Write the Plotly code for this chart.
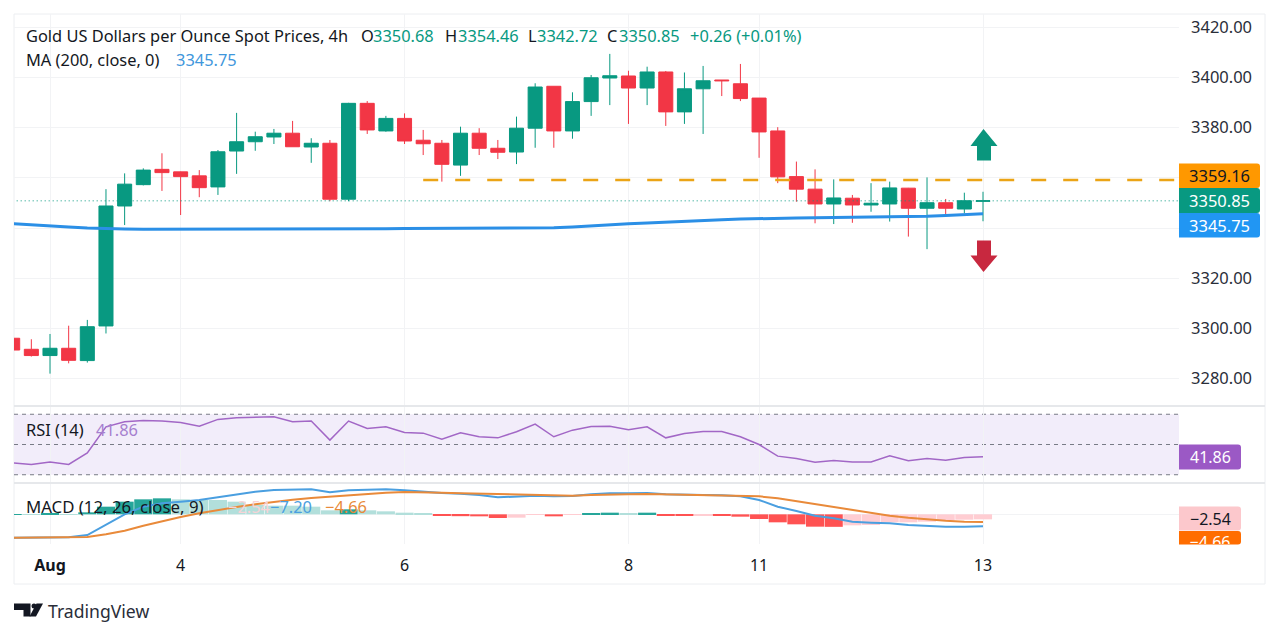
import plotly.graph_objects as go
from plotly.subplots import make_subplots

# 4h bars, index 0 is the first bar of Aug
bar_index = list(range(-2, 51))
opens = [3296.1, 3291.7, 3289.2, 3292.1, 3287.2, 3301.0, 3348.8, 3357.3, 3363.4, 3362.4, 3360.8, 3356.4, 3370.7,
         3374.4, 3376.3, 3377.8, 3372.3, 3373.8, 3351.5, 3389.7, 3378.7, 3383.7, 3375.0, 3373.8, 3365.1, 3377.8,
         3371.8, 3370.3, 3379.8, 3396.5, 3378.7, 3390.4, 3399.8, 3400.6, 3395.8, 3402.2, 3386.3, 3395.5, 3399.0,
         3397.5, 3391.8, 3378.7, 3360.5, 3355.5, 3349.6, 3351.9, 3349.2, 3349.6, 3355.9, 3347.9, 3350.1, 3347.6,
         3350.68]
highs = [3296.5, 3295.7, 3297.8, 3301.1, 3303.4, 3355.5, 3361.8, 3363.8, 3369.8, 3362.5, 3363.1, 3371.1, 3385.9,
         3378.4, 3379.5, 3382.7, 3375.8, 3375.1, 3389.9, 3390.6, 3384.7, 3385.7, 3379.1, 3375.1, 3380.4, 3379.8,
         3375.1, 3384.4, 3397.7, 3396.5, 3394.1, 3401.0, 3409.4, 3402.7, 3404.3, 3402.6, 3402.0, 3404.6, 3399.0,
         3405.4, 3391.8, 3380.2, 3366.5, 3363.4, 3359.4, 3353.2, 3357.9, 3358.5, 3356.0, 3360.2, 3351.6, 3354.1,
         3354.46]
lows = [3291.0, 3288.8, 3282.0, 3286.1, 3286.4, 3298.0, 3341.2, 3357.0, 3354.8, 3345.2, 3352.3, 3353.2, 3361.6,
        3370.8, 3373.5, 3372.4, 3366.0, 3350.7, 3350.7, 3377.5, 3378.4, 3373.5, 3369.1, 3358.5, 3360.8, 3369.1,
        3367.5, 3365.5, 3372.0, 3372.0, 3375.6, 3384.7, 3389.0, 3381.5, 3389.0, 3380.7, 3381.5, 3377.5, 3392.6,
        3390.6, 3368.0, 3357.9, 3350.5, 3341.9, 3341.6, 3342.1, 3346.5, 3342.6, 3336.6, 3331.6, 3345.6, 3345.9,
        3342.72]
closes = [3291.4, 3289.2, 3292.1, 3287.3, 3300.7, 3348.8, 3357.5, 3363.1, 3362.1, 3360.5, 3356.1, 3370.4, 3374.4,
          3376.4, 3377.8, 3372.4, 3373.8, 3351.5, 3389.7, 3379.1, 3383.7, 3374.7, 3373.6, 3365.4, 3377.8, 3371.8,
          3370.2, 3379.8, 3396.2, 3378.7, 3390.4, 3399.9, 3400.7, 3395.8, 3402.2, 3386.3, 3395.5, 3398.7, 3398.7,
          3391.6, 3378.3, 3360.4, 3355.5, 3349.6, 3352.0, 3349.2, 3349.9, 3356.0, 3347.9, 3350.1, 3347.9, 3350.9,
          3350.85]
ma200 = [3341.75, 3341.2, 3340.8, 3340.4, 3340.0, 3339.7, 3339.6, 3339.5, 3339.5, 3339.5, 3339.5, 3339.5, 3339.5,
         3339.5, 3339.5, 3339.5, 3339.5, 3339.5, 3339.6, 3339.7, 3339.7, 3339.8, 3339.8, 3339.8, 3339.9, 3339.9,
         3339.9, 3340.0, 3340.0, 3340.1, 3340.4, 3340.9, 3341.3, 3341.7, 3342.0, 3342.4, 3342.7, 3343.0, 3343.3,
         3343.6, 3343.8, 3344.0, 3344.0, 3344.1, 3344.2, 3344.2, 3344.3, 3344.4, 3344.5, 3344.7, 3345.0, 3345.3,
         3345.75]
rsi = [37.9, 36.8, 38.5, 36.8, 44.5, 61.7, 65, 65.9, 65.5, 64.6, 62.1, 66.6, 67.7, 67.9, 68.3, 65, 65.5, 52.9, 65.5,
       60.6, 61.7, 57.9, 57.5, 53.5, 57.7, 55.1, 54.4, 58.4, 63.5, 55.1, 59.5, 61.9, 62.1, 59.7, 61.7, 54.4, 57.3,
       58.6, 58.6, 55.1, 50, 42.3, 40.7, 38.3, 39.4, 38.5, 38.5, 42.5, 39.2, 40.7, 39.6, 41.4, 41.86]
macd = [-14, -14, -13.8, -13.8, -12.4, -6.4, 0, 4.6, 6.6, 7.6, 8.6, 10.2, 12, 13.6, 14.6, 14.8, 15, 13.2, 14.4, 14.8,
        15, 14.4, 13.4, 12.8, 12.4, 11.6, 10.2, 10.6, 11.2, 10.8, 11, 12, 12.6, 12.6, 12.8, 12, 11.6, 11.6, 11.4,
        10.8, 8.6, 4.6, 2, -0.8, -2.4, -4.4, -5, -5.4, -6.4, -7, -7.4, -7.4, -7.2]
signal = [-14, -14, -14, -14, -13.6, -12, -9.8, -6.8, -4, -1.6, 0.6, 2.6, 4.4, 6, 7.6, 8.8, 9.8, 10.6, 11.6, 12.4,
          13, 13.4, 13.4, 13, 12.6, 12.4, 12, 11.6, 11.4, 11.2, 11.2, 11.6, 12, 12, 12.2, 12, 11.8, 11.6, 11.6, 11.4,
          10.8, 9.6, 7.8, 6, 4.2, 2.4, 0.8, -0.8, -2, -3, -3.8, -4.4, -4.66]
hist = [0.1, 0.1, 0.4, 0.1, 1.2, 4.6, 7.6, 9, 9.6, 9, 8.6, 8.6, 7.6, 5.6, 5.2, 5.2, 4.6, 2.4, 3, 2.4, 1.8, 1, 0.4,
        -1, -1.1, -1.2, -2.2, -2, -0.2, -1.2, -0.4, 0.6, 1, 0.4, 1, -0.6, -0.7, -0.6, -0.7, -1.4, -2.8, -4.8, -6,
        -7.4, -7.5, -6.6, -6.4, -4.8, -4.8, -4.4, -3.4, -3.2, -3]

price_ticks = [3280, 3300, 3320, 3340, 3360, 3380, 3400, 3420]
price_labels = ["3280.00", "3300.00", "3320.00", "", "", "3380.00", "3400.00", "3420.00"]
time_ticks = [0, 7, 19, 31, 38, 50]
time_labels = ["<b>Aug</b>", "4", "6", "8", "11", "13"]
level_bars = [20, 60.5]
level_price = 3359.16
last_bars = [-2, 60.5]
last_price = 3350.85

GREEN = "#089981"
RED = "#f23645"
BLUE = "#2b8fe6"
PURPLE = "#9b59c5"
TEXT = "#131722"
GRID = "#f2f3f5"
FONT = "Noto Sans"
W, H = 1280, 636


def px(x):
    return x / W


def py(y):
    return 1 - y / H


def pane(top, bottom):
    return [py(bottom), py(top)]


def poly(points):
    return "M" + " L".join(f"{px(x):.5f},{py(y):.5f}" for x, y in points) + " Z"


def tag(x0, x1, y0, y1, color, layer="above"):
    # price scale tag with rounded right corners
    r = 3
    return dict(type="path", xref="paper", yref="paper", layer=layer, fillcolor=color, line_width=0,
                path=f"M{px(x0):.5f},{py(y0):.5f} L{px(x1 - r):.5f},{py(y0):.5f} "
                     f"Q{px(x1):.5f},{py(y0):.5f} {px(x1):.5f},{py(y0 + r):.5f} "
                     f"L{px(x1):.5f},{py(y1 - r):.5f} Q{px(x1):.5f},{py(y1):.5f} {px(x1 - r):.5f},{py(y1):.5f} "
                     f"L{px(x0):.5f},{py(y1):.5f} Z")


def label(x, y, text, size=16.4, color=TEXT, anchor="left"):
    # annotations carry about 2px of padding on the left
    x = x - 2 if anchor == "left" else x
    return dict(xref="paper", yref="paper", x=px(x), y=py(y), text=text, showarrow=False, xanchor=anchor,
                yanchor="middle", align="left", font=dict(family=FONT, size=size, color=color))


hist_colors = []
for i, v in enumerate(hist):
    prev = hist[i - 1] if i else 0
    if v >= 0:
        hist_colors.append("#26a69a" if v > prev else "#b2dfdb")
    else:
        hist_colors.append("#ff5252" if v < prev else "#ffcdd2")

fig = make_subplots(rows=3, cols=1, shared_xaxes=True)
fig.add_trace(go.Scatter(x=last_bars, y=[last_price, last_price], mode="lines",
                         line=dict(color=GREEN, width=1, dash="1px,3px")), row=1, col=1)
fig.add_trace(go.Scatter(x=bar_index, y=ma200, mode="lines", line=dict(color=BLUE, width=3)), row=1, col=1)
fig.add_trace(go.Candlestick(x=bar_index, open=opens, high=highs, low=lows, close=closes, whiskerwidth=0,
                             increasing=dict(line=dict(color=GREEN, width=1), fillcolor=GREEN),
                             decreasing=dict(line=dict(color=RED, width=1), fillcolor=RED)), row=1, col=1)
fig.add_trace(go.Scatter(x=level_bars, y=[level_price, level_price], mode="lines",
                         line=dict(color="#eba416", width=2.5, dash="15px,17px")), row=1, col=1)
fig.add_trace(go.Scatter(x=bar_index, y=rsi, mode="lines", line=dict(color="#a267c6", width=1.5)), row=2, col=1)
fig.add_trace(go.Bar(x=bar_index, y=hist, marker=dict(color=hist_colors, line_width=0)), row=3, col=1)
fig.add_trace(go.Scatter(x=bar_index, y=macd, mode="lines", line=dict(color="#4a9fe0", width=2)), row=3, col=1)
fig.add_trace(go.Scatter(x=bar_index, y=signal, mode="lines", line=dict(color="#e98a3a", width=2)), row=3, col=1)

# the signal tag is cut off by the pane edge in the original, so it gets an axis of its own to clip against
fig.add_trace(go.Scatter(x=[0.5], y=[-17.8], mode="text", text=["−4.66"], xaxis="x4", yaxis="y4", cliponaxis=True,
                         textposition="middle center", textfont=dict(family=FONT, size=16, color="white")))

x_range = [-36 / 18.66, 1129 / 18.66]
x_common = dict(range=x_range, domain=[px(14), px(1179)], showgrid=True, gridcolor=GRID, gridwidth=1, zeroline=False,
                tickvals=time_ticks, ticktext=time_labels, rangeslider_visible=False, showline=False, ticks="")
fig.update_layout(
    width=W, height=H, margin=dict(l=0, r=0, t=0, b=0), plot_bgcolor="rgba(0,0,0,0)", paper_bgcolor="white",
    showlegend=False, boxgap=0.2, boxgroupgap=0.06, bargap=0.03, font=dict(family=FONT, color=TEXT),
    xaxis=dict(**x_common, showticklabels=False),
    xaxis2=dict(**x_common, showticklabels=False),
    xaxis3=dict(**x_common, showticklabels=True, ticklabelstandoff=10, tickfont=dict(size=16, color=TEXT)),
    yaxis=dict(domain=pane(14, 405), range=[3269.5, 3425.3], side="right", tickvals=price_ticks, ticktext=price_labels,
               showgrid=True, gridcolor=GRID, zeroline=False, ticks="", ticklabelstandoff=11,
               tickfont=dict(size=16.5, color="#2a2e39")),
    yaxis2=dict(domain=pane(407, 482), range=[25.2, 74.8], showgrid=False, zeroline=False, showticklabels=False),
    yaxis3=dict(domain=pane(484, 544), range=[-17.8, 18.2], showgrid=False, zeroline=True, zerolinecolor=GRID,
                zerolinewidth=1, showticklabels=False),
    xaxis4=dict(domain=[px(1179), px(1241)], range=[0, 1], anchor="y4", visible=False),
    yaxis4=dict(domain=pane(484, 544), range=[-17.8, 18.2], anchor="x4", visible=False),
)

shapes = [
    dict(type="rect", xref="paper", yref="paper", x0=px(14), x1=px(1265), y0=py(584), y1=py(14), layer="below",
         line=dict(color="#eceef1", width=1)),
    dict(type="line", xref="paper", yref="paper", x0=px(14), x1=px(1265), y0=py(406), y1=py(406), layer="below",
         line=dict(color="#e6e8eb", width=2)),
    dict(type="line", xref="paper", yref="paper", x0=px(14), x1=px(1265), y0=py(483), y1=py(483), layer="below",
         line=dict(color="#e6e8eb", width=2)),
    dict(type="rect", xref="x2", yref="y2", x0=x_range[0], x1=x_range[1], y0=30, y1=70, layer="below",
         fillcolor="#f2edfa", line_width=0),
]
for level in [70, 50, 30]:
    shapes.append(dict(type="line", xref="x2", yref="y2", x0=x_range[0], x1=x_range[1], y0=level, y1=level,
                       layer="below", line=dict(color="#787b86", width=1, dash="4px,4px")))

# up / down arrows
shapes.append(dict(type="path", xref="paper", yref="paper", layer="above", fillcolor="#0a967d", line_width=0,
                   path=poly([(983.5, 129), (997.5, 146), (991, 146), (991, 160.5), (977, 160.5), (977, 146),
                              (970.5, 146)])))
shapes.append(dict(type="path", xref="paper", yref="paper", layer="above", fillcolor="#c8283f", line_width=0,
                   path=poly([(977, 240.5), (991, 240.5), (991, 255.5), (997.5, 255.5), (983.5, 272), (970.5, 255.5),
                              (977, 255.5)])))

# price scale tags
shapes += [tag(1179, 1260, 163.5, 188, "#ff9800"), tag(1179, 1260, 188, 213, GREEN), tag(1179, 1260, 213, 237.5, "#2196f3"),
           tag(1179, 1241, 444.5, 469.5, PURPLE), tag(1179, 1241, 506.5, 530.5, "#fcc8cc"),
           tag(1179, 1241, 531, 544.5, "#ff6d00", layer="below")]

# logo
LOGO = "#131722"
shapes.append(dict(type="path", xref="paper", yref="paper", fillcolor=LOGO, line_width=0,
                   path=poly([(14, 603.5), (30.5, 603.5), (30.5, 616.5), (23.5, 616.5), (23.5, 610), (14, 610)])))
shapes.append(dict(type="circle", xref="paper", yref="paper", fillcolor=LOGO, line_width=0,
                   x0=px(31.5), x1=px(36.5), y0=py(608.5), y1=py(603.5)))
shapes.append(dict(type="path", xref="paper", yref="paper", fillcolor=LOGO, line_width=0,
                   path=poly([(36.5, 603.5), (43, 603.5), (36, 616.5), (29.5, 616.5)])))
fig.update_layout(shapes=shapes)

annotations = [
    label(26, 36, "Gold US Dollars per Ounce Spot Prices, 4h"),
    label(361, 36, "O"), label(373, 36, "3350.68", color=GREEN),
    label(445, 36, "H"), label(458, 36, "3354.46", color=GREEN),
    label(528, 36, "L"), label(537, 36, "3342.72", color=GREEN),
    label(607, 36, "C"), label(619, 36, "3350.85", color=GREEN),
    label(690, 36, "+0.26 (+0.01%)", color=GREEN),
    label(26, 60, "MA (200, close, 0)"),
    label(176, 60, "3345.75", color="#3f97dc"),
    label(26, 429, "RSI (14)"),
    label(96, 429, "41.86", color="#a67fcf"),
    label(26, 506, "MACD (12, 26, close, 9)", size=16.8),
    label(228, 506, "−2.54", color="#f8d3d6"),
    label(270, 506, "−7.20", color="#4a9fe0"),
    label(325, 506, "−4.66", color="#e98a3a"),
    label(1219.5, 175.5, "3359.16", size=16.5, anchor="center"),
    label(1219.5, 200.5, "3350.85", size=16.5, color="white", anchor="center"),
    label(1219.5, 225.5, "3345.75", size=16.5, color="white", anchor="center"),
    label(1210, 457, "41.86", size=16, color="white", anchor="center"),
    label(1210, 518.5, "−2.54", size=16, anchor="center"),
    label(48, 611, "TradingView", size=17.6, color="#2a2e39"),
]
fig.update_layout(annotations=annotations)

# page body has a default margin that would push the chart out of the window
fig.write_html("out.html", config={"displayModeBar": False}, post_script="document.body.style.margin='0';")
